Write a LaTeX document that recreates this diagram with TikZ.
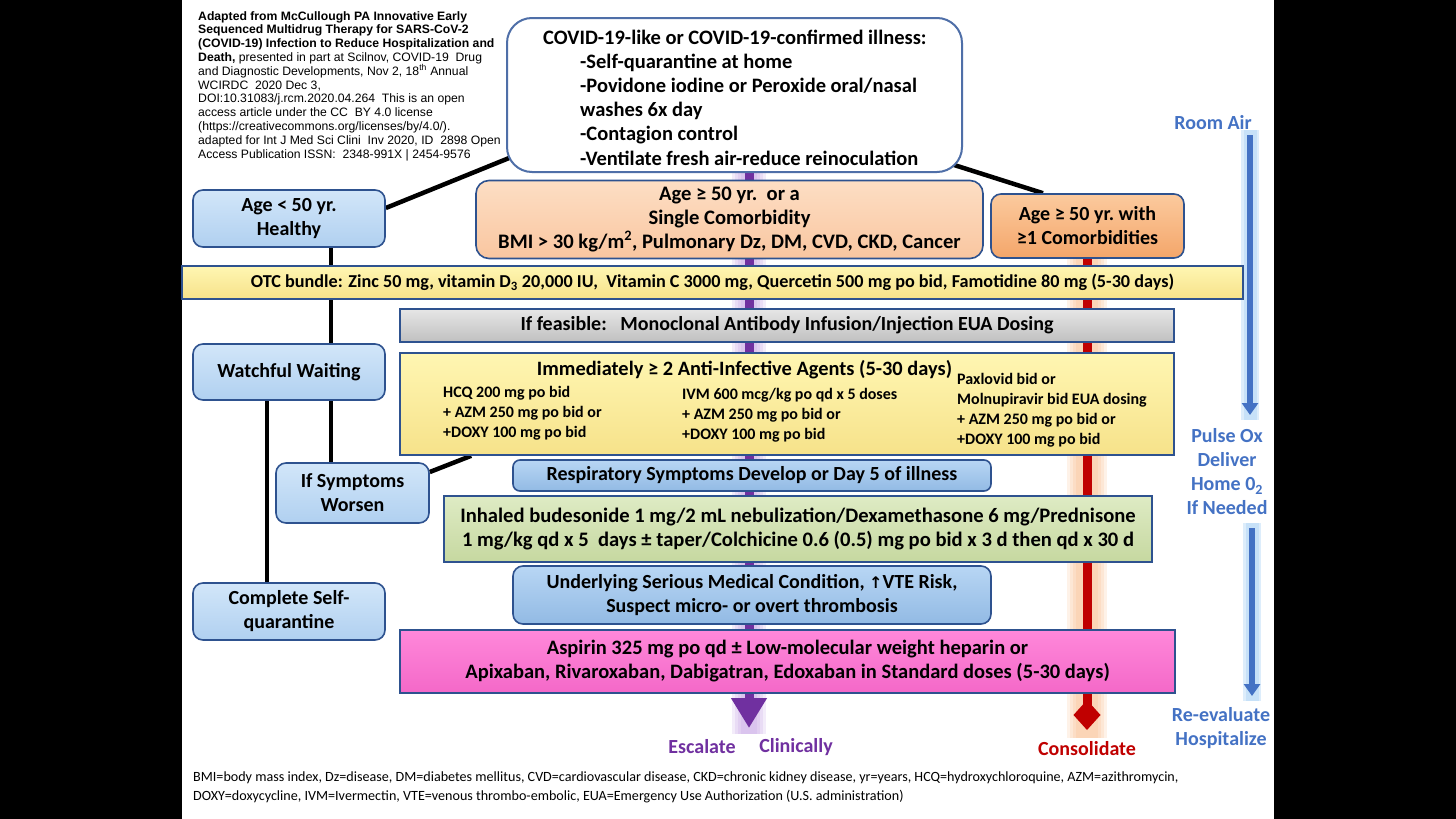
\documentclass[tikz,border=0pt]{standalone}
\usepackage{fontspec}
\setmainfont{Carlito}
\newfontfamily\citefont{Liberation Sans}
\newfontfamily\symfont{DejaVu Sans}
\usetikzlibrary{arrows.meta,calc}
\pgfdeclarelayer{bglines}
\pgfdeclarelayer{paper}
\pgfsetlayers{paper,bglines,main}
\definecolor{bordc}{RGB}{46,82,143}
\definecolor{covbord}{RGB}{79,111,168}
\definecolor{blueT}{RGB}{210,230,249}
\definecolor{blueB}{RGB}{176,208,240}
\definecolor{blue2T}{RGB}{184,214,244}
\definecolor{blue2B}{RGB}{146,186,228}
\definecolor{peachT}{RGB}{253,222,196}
\definecolor{peachB}{RGB}{249,198,160}
\definecolor{orangeT}{RGB}{251,202,158}
\definecolor{orangeB}{RGB}{244,166,106}
\definecolor{yellowT}{RGB}{255,246,178}
\definecolor{yellowB}{RGB}{246,226,138}
\definecolor{grayT}{RGB}{230,230,230}
\definecolor{grayB}{RGB}{192,192,192}
\definecolor{greenT}{RGB}{222,235,196}
\definecolor{greenB}{RGB}{198,216,160}
\definecolor{pinkT}{RGB}{255,136,218}
\definecolor{pinkB}{RGB}{244,104,200}
\definecolor{purpc}{RGB}{112,48,160}
\definecolor{purpglow}{RGB}{185,140,225}
\definecolor{redc}{RGB}{192,0,0}
\definecolor{redglow}{RGB}{250,175,115}
\definecolor{bluec}{RGB}{68,114,196}
\definecolor{blueglow}{RGB}{160,205,245}
\definecolor{bluetext}{RGB}{68,114,196}
\newcommand\mainsz{\fontsize{20}{24}\selectfont}
\newcommand\colsz{\fontsize{16}{20}\selectfont}
\begin{document}
\begin{tikzpicture}[x=1pt,y=-1pt,
  box/.style={draw=bordc,line width=1.6pt,inner sep=0pt,align=center,
    font=\bfseries\mainsz,text=black},
  rbox/.style={box,rounded corners=10pt},
  conn/.style={line width=4.5pt,black},
  glow/.style={line cap=butt,opacity=0.16},
  sidetext/.style={font=\bfseries\mainsz,align=center,inner sep=0pt}]
\begin{pgfonlayer}{paper}
\useasboundingbox (0,0) rectangle (1456,819);
\fill[black] (0,0) rectangle (1456,819);
\fill[white] (182,0) rectangle (1274,819);
\end{pgfonlayer}

% coordinates for the flow lines
\coordinate (esc) at (749,728);
\coordinate (cons) at (1087,730);
\coordinate (ra1) at (1250,135);
\coordinate (ra2) at (1250,415);
\coordinate (rb1) at (1252,528);
\coordinate (rb2) at (1252,696);

% boxes
\node[box,rounded corners=25pt,draw=covbord,line width=2pt,fill=white,
  minimum width=455pt,minimum height=154pt] (covid) at (734.5,95) {};
\node[rbox,top color=blueT,bottom color=blueB,minimum width=192pt,minimum height=57pt]
  (agelow) at (289,218.5) {Age < 50 yr.\\Healthy};
\node[rbox,rounded corners=13pt,top color=peachT,bottom color=peachB,minimum width=507pt,minimum height=78pt,
  font=\bfseries\fontsize{20.6}{23.6}\selectfont]
  (agemid) at (729.5,219.5) {Age ≥ 50 yr.\ \ or a\\Single Comorbidity\\BMI > 30 kg/m\textsuperscript{2}, Pulmonary Dz, DM, CVD, CKD, Cancer};
\node[rbox,top color=orangeT,bottom color=orangeB,minimum width=193pt,minimum height=64pt]
  (agehigh) at (1087.5,226) {Age ≥ 50 yr.\ with\\≥1 Comorbidities};
\node[rbox,top color=blueT,bottom color=blueB,minimum width=192pt,minimum height=56pt]
  (watch) at (289,372) {Watchful Waiting};
\node[rbox,top color=blueT,bottom color=blueB,minimum width=153pt,minimum height=60pt]
  (worsen) at (352.5,493) {If Symptoms\\Worsen};
\node[rbox,top color=blueT,bottom color=blueB,minimum width=192pt,minimum height=57pt]
  (complete) at (289,611.5) {Complete Self-\\quarantine};
\node[box,top color=yellowT,bottom color=yellowB,minimum width=1061pt,minimum height=33pt,
  font=\bfseries\fontsize{18.2}{22}\selectfont]
  (otc) at (712.5,282.5) {OTC bundle: Zinc 50 mg, vitamin D\textsubscript{3} 20,000 IU,\ \ Vitamin C 3000 mg, Quercetin 500 mg po bid, Famotidine 80 mg (5-30 days)};
\node[box,top color=grayT,bottom color=grayB,minimum width=774pt,minimum height=33pt]
  (mab) at (787,325.5) {If feasible:\ \ \ Monoclonal Antibody Infusion/Injection EUA Dosing};
\node[box,top color=yellowT,bottom color=yellowB,minimum width=774pt,minimum height=102pt]
  (immed) at (787,404) {};
\node[font=\bfseries\fontsize{20.4}{24}\selectfont,inner sep=0pt] (immtitle) at (744.5,370) {Immediately ≥ 2 Anti-Infective Agents (5-30 days)};
\node[font=\bfseries\colsz,align=left,anchor=west,inner sep=0pt] (col1) at (443,413)
  {HCQ 200 mg po bid\\+ AZM 250 mg po bid or\\+DOXY 100 mg po bid};
\node[font=\bfseries\colsz,align=left,anchor=west,inner sep=0pt] (col2) at (682,415)
  {IVM 600 mcg/kg po qd x 5 doses\\+ AZM 250 mg po bid or\\+DOXY 100 mg po bid};
\node[font=\bfseries\colsz,align=left,anchor=west,inner sep=0pt] (col3) at (957,410)
  {Paxlovid bid or\\Molnupiravir bid EUA dosing\\+ AZM 250 mg po bid or\\+DOXY 100 mg po bid};
\node[rbox,rounded corners=7pt,top color=blue2T,bottom color=blue2B,minimum width=478pt,minimum height=31pt]
  (resp) at (752,475.5) {Respiratory Symptoms Develop or Day 5 of illness};
\node[box,top color=greenT,bottom color=greenB,minimum width=708pt,minimum height=66pt,
  font=\bfseries\fontsize{20.6}{24}\selectfont]
  (inhaled) at (798,529) {Inhaled budesonide 1 mg/2 mL nebulization/Dexamethasone 6 mg/Prednisone\\1 mg/kg qd x 5\ \ days ± taper/Colchicine 0.6 (0.5) mg po bid x 3 d then qd x 30 d};
\node[rbox,top color=blue2T,bottom color=blue2B,minimum width=478pt,minimum height=58pt]
  (underlying) at (752,595) {Underlying Serious Medical Condition, {\symfont\fontsize{16}{20}\selectfont ↑}VTE Risk,\\Suspect micro- or overt thrombosis};
\node[box,top color=pinkT,bottom color=pinkB,minimum width=775pt,minimum height=63pt,
  font=\bfseries\fontsize{20.5}{24}\selectfont]
  (aspirin) at (787.5,661.5) {Aspirin\ 325 mg po qd ± Low-molecular weight heparin or\\Apixaban, Rivaroxaban, Dabigatran, Edoxaban in Standard doses (5-30 days)};

% COVID box text
\node[font=\bfseries\fontsize{20.5}{24.2}\selectfont,align=left,anchor=west,inner sep=0pt] (covidtxt) at (543,97.5)
  {COVID-19-like or COVID-19-confirmed illness:\\
   \hspace*{37pt}-Self-quarantine at home\\
   \hspace*{37pt}-Povidone iodine or Peroxide oral/nasal\\
   \hspace*{37pt}washes 6x day\\
   \hspace*{37pt}-Contagion control\\
   \hspace*{37pt}-Ventilate fresh air-reduce reinoculation};

% lines below the boxes
\begin{pgfonlayer}{bglines}
\foreach \w in {34,28,22,16}{
  \draw[glow,purpglow,line width=\w pt] (covid.south -| esc) -- ($(esc)+(0,6)$);
  \draw[glow,redglow,line width=\w pt+6pt] (agehigh.south -| cons) -- ($(cons)+(0,8)$);
}
\foreach \w in {18,13}{
  \draw[glow,blueglow,opacity=0.35,line width=\w pt] ($(ra1)+(0,-5)$) -- ($(ra2)+(0,5)$);
  \draw[glow,blueglow,opacity=0.35,line width=\w pt] ($(rb1)+(0,-5)$) -- ($(rb2)+(0,5)$);
}
\draw[purpc,line width=9pt,-{Triangle[width=34pt,length=30pt]}] (covid.south -| esc) -- (esc);
\draw[redc,line width=9pt,-{Diamond[width=27pt,length=30pt]}] (agehigh.south -| cons) -- (cons);
\draw[bluec,line width=6pt,-{Triangle[width=16pt,length=12pt]}] (ra1) -- (ra2);
\draw[bluec,line width=6pt,-{Triangle[width=16pt,length=12pt]}] (rb1) -- (rb2);
% black connectors
\draw[conn] ($(agelow.east)+(0,-10.5)$) -- ($(covid.south west)+(13,-19)$);
\draw[conn] ($(covid.south east)+(-12,-9)$) -- ($(agehigh.north)+(-44.5,0)$);
\draw[conn] ($(agelow.south)+(42,0)$) -- ($(watch.north)+(42,0)$);
\draw[conn] ($(watch.south)+(-22,0)$) -- ($(complete.north)+(-22,0)$);
\draw[conn] ($(watch.south)+(42,0)$) -- ($(worsen.north)+(-21.5,0)$);
\draw[conn] ($(worsen.east)+(0,-21)$) -- ($(immed.south west)+(72,0)$);
\end{pgfonlayer}

% citation
\node[font=\citefont\fontsize{12.2}{13.8}\selectfont,align=left,anchor=west,inner sep=0pt] (cite) at (198,86)
  {\textbf{Adapted from McCullough PA Innovative Early}\\
   \textbf{Sequenced Multidrug Therapy for SARS-CoV-2}\\
   \textbf{(COVID-19) Infection to Reduce Hospitalization and}\\
   \textbf{Death,} presented in part at Scilnov, COVID-19\ \ Drug\\
   and Diagnostic Developments, Nov 2, 18\textsuperscript{th} Annual\\
   WCIRDC\ \ 2020 Dec 3,\\
   DOI:10.31083/j.rcm.2020.04.264\ \ This is an open\\
   access article under the CC\ \ BY 4.0 license\\
   (https://creativecommons.org/licenses/by/4.0/).\\
   adapted for Int J Med Sci Clini\ \ Inv 2020, ID\ \ 2898 Open\\
   Access Publication ISSN:\ \ 2348-991X | 2454-9576};

% side texts
\node[sidetext,text=bluetext] (roomair) at (1213,123) {Room Air};
\node[sidetext,text=bluetext] (pulseox) at (1227,472) {Pulse Ox\\Deliver\\Home 0\textsubscript{2}\\If Needed};
\node[sidetext,text=bluetext] (reeval) at (1221,728) {Re-evaluate\\Hospitalize};
\node[sidetext,text=purpc] (escl) at (702,747) {Escalate};
\node[sidetext,text=purpc] (clin) at (796,747) {Clinically};
\node[sidetext,text=redc] (consl) at (1087,749) {Consolidate};

% footer
\node[font=\fontsize{14.1}{19}\selectfont,align=left,anchor=west,inner sep=0pt] (footer) at (193,787.5)
  {BMI=body mass index, Dz=disease, DM=diabetes mellitus, CVD=cardiovascular disease, CKD=chronic kidney disease, yr=years, HCQ=hydroxychloroquine, AZM=azithromycin,\\
   DOXY=doxycycline, IVM=Ivermectin, VTE=venous thrombo-embolic, EUA=Emergency Use Authorization (U.S. administration)};
\end{tikzpicture}
\end{document}
